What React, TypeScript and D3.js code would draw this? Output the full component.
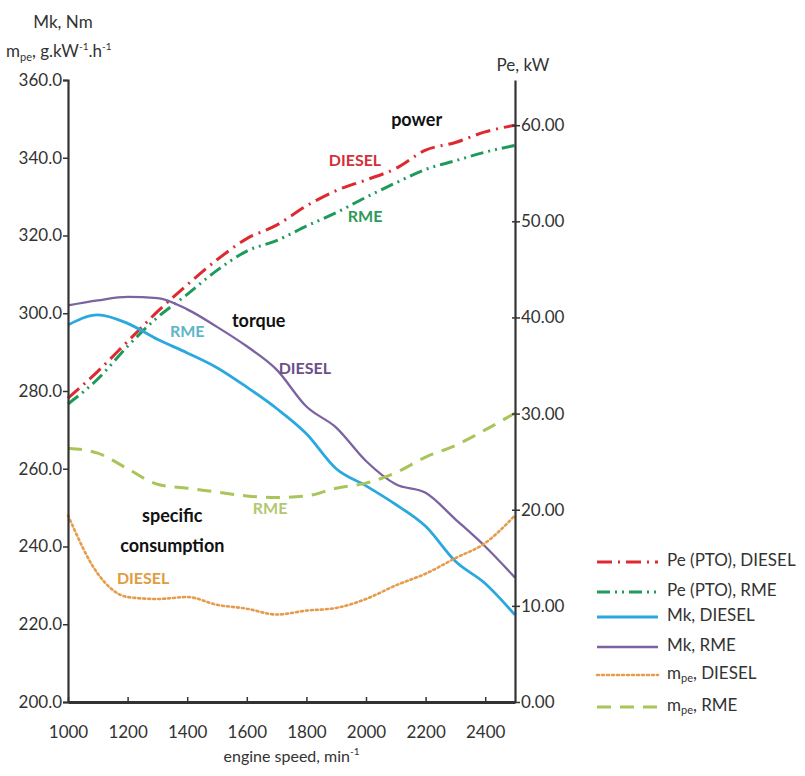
import React, { useRef, useEffect } from "react";
import * as d3 from "d3";

// engine speed, min-1
const rpm = [1000, 1100, 1200, 1300, 1400, 1500, 1600, 1700, 1800, 1900, 2000, 2100, 2200, 2300, 2400, 2500];

// Pe (PTO), kW -> right axis
const peDiesel = [31.6, 34.4, 37.5, 40.6, 43.4, 46.0, 48.2, 49.6, 51.6, 53.2, 54.3, 55.5, 57.4, 58.2, 59.3, 60.0];
const peRme = [31.0, 33.6, 37.0, 40.0, 42.4, 44.9, 46.9, 48.0, 49.5, 50.9, 52.5, 54.0, 55.4, 56.3, 57.2, 57.9];

// Mk, Nm -> left axis
const mkDiesel = [297.0, 299.6, 297.4, 293.3, 289.8, 286.0, 281.0, 275.5, 269.0, 260.0, 255.6, 250.8, 245.2, 236.2, 230.5, 222.4];
const mkRme = [302.0, 303.3, 304.2, 303.9, 301.0, 296.5, 291.5, 285.5, 276.0, 270.6, 262.0, 256.0, 253.8, 247.0, 240.0, 232.0];

// mpe, g/kWh -> left axis
const mpeDiesel = [248.0, 233.0, 227.0, 226.5, 227.0, 225.0, 224.0, 222.5, 223.5, 224.2, 226.5, 230.0, 233.0, 237.0, 240.9, 248.0];
const mpeRme = [265.3, 264.0, 260.0, 256.0, 255.0, 254.0, 253.0, 252.6, 253.0, 255.0, 256.3, 259.0, 263.0, 266.0, 270.0, 274.3];

const xTicks = [1000, 1200, 1400, 1600, 1800, 2000, 2200, 2400];
const leftTicks = [200, 220, 240, 260, 280, 300, 320, 340, 360];
const rightTicks = [0, 10, 20, 30, 40, 50, 60];

const series = [
  { key: "Pe (PTO), DIESEL", values: peDiesel, axis: "right", color: "#dc2a30", width: 3, dash: "15 6 2 6" },
  { key: "Pe (PTO), RME", values: peRme, axis: "right", color: "#1f9a5c", width: 3, dash: "13 5 2 5 2 5" },
  { key: "Mk, DIESEL", values: mkDiesel, axis: "left", color: "#2ba8df", width: 2.8, dash: null },
  { key: "Mk, RME", values: mkRme, axis: "left", color: "#7b62a0", width: 2.3, dash: null },
  { key: "mpe, DIESEL", values: mpeDiesel, axis: "left", color: "#e59c4c", width: 2.6, dash: "2 3" },
  { key: "mpe, RME", values: mpeRme, axis: "left", color: "#a9c55a", width: 3, dash: "14 9" },
];

// chart annotations, positioned in data units
const notes = [
  { text: "power", x: 2170, v: 60.4, axis: "right", color: "#111", size: 18 },
  { text: "DIESEL", x: 1963, v: 56.2, axis: "right", color: "#d3303a", size: 16 },
  { text: "RME", x: 1997, v: 50.4, axis: "right", color: "#2e9a5a", size: 16 },
  { text: "torque", x: 1640, v: 297.7, axis: "left", color: "#111", size: 18 },
  { text: "RME", x: 1400, v: 295.0, axis: "left", color: "#5bb6c8", size: 16 },
  { text: "DIESEL", x: 1795, v: 285.4, axis: "left", color: "#6b4f8a", size: 16 },
  { text: "specific", x: 1350, v: 247.5, axis: "left", color: "#111", size: 18 },
  { text: "consumption", x: 1350, v: 239.8, axis: "left", color: "#111", size: 18 },
  { text: "DIESEL", x: 1252, v: 231.3, axis: "left", color: "#e09c40", size: 16 },
  { text: "RME", x: 1678, v: 249.4, axis: "left", color: "#b2c870", size: 16 },
];

const FONT = "Lato, 'Open Sans', sans-serif";

const App = ({ width = 805, height = 776 }) => {
  const ref = useRef<SVGSVGElement>(null);

  useEffect(() => {
    const svg = d3.select(ref.current);
    svg.selectAll("*").remove();

    const left = 68, right = 515, top = 80, bottom = 702;
    const x = d3.scaleLinear().domain([1000, 2500]).range([left, right]);
    const yL = d3.scaleLinear().domain([200, 360]).range([bottom, top]);
    const yR = d3.scaleLinear().domain([0, 64.7]).range([bottom, top]);
    const axisColor = "#333";

    const g = svg.append("g").style("font-family", FONT).attr("fill", "#333");

    // curves
    series.forEach((s) => {
      const yy = s.axis === "left" ? yL : yR;
      const line = d3
        .line<number>()
        .x((_d, i) => x(rpm[i]))
        .y((d) => yy(d))
        .curve(d3.curveMonotoneX);
      g.append("path")
        .attr("d", line(s.values))
        .attr("fill", "none")
        .attr("stroke", s.color)
        .attr("stroke-width", s.width)
        .attr("stroke-dasharray", s.dash)
        .attr("stroke-linecap", s.dash === "2 3" ? "round" : "butt");
    });

    // left axis
    const la = g.append("g").attr("transform", `translate(${left},0)`)
      .call(d3.axisLeft(yL).tickValues(leftTicks).tickSize(5).tickFormat((d) => d3.format(".1f")(d as number)));
    la.select(".domain").attr("stroke", axisColor).attr("stroke-width", 2.2);
    la.selectAll(".tick line").attr("stroke", axisColor).attr("stroke-width", 1.5);
    la.selectAll(".tick text").attr("font-size", 17).attr("fill", "#333").attr("dx", 2).attr("font-family", FONT);

    // right axis
    const ra = g.append("g").attr("transform", `translate(${right},0)`)
      .call(d3.axisRight(yR).tickValues(rightTicks).tickSize(5).tickSizeOuter(0).tickFormat((d) => d3.format(".2f")(d as number)));
    ra.select(".domain").attr("stroke", axisColor).attr("stroke-width", 2.2);
    ra.selectAll(".tick line").attr("stroke", axisColor).attr("stroke-width", 1.5).attr("x1", -3);
    ra.selectAll(".tick text").attr("font-size", 17).attr("fill", "#333").attr("dx", -2).attr("font-family", FONT);

    // bottom axis
    const ba = g.append("g").attr("transform", `translate(0,${bottom})`)
      .call(d3.axisBottom(x).tickValues(xTicks).tickSize(-5).tickSizeOuter(0).tickFormat(d3.format("d")));
    ba.select(".domain").attr("stroke", axisColor).attr("stroke-width", 3);
    ba.selectAll(".tick line").attr("stroke", axisColor).attr("stroke-width", 1.5);
    ba.selectAll(".tick text").attr("font-size", 17).attr("fill", "#333").attr("y", 24).attr("font-family", FONT);

    // axis titles
    g.append("text").attr("x", 63).attr("y", 28).attr("text-anchor", "middle").attr("font-size", 17).text("Mk, Nm");
    const t2 = g.append("text").attr("x", 6).attr("y", 57).attr("font-size", 17);
    t2.append("tspan").text("m");
    t2.append("tspan").attr("font-size", 11).attr("dy", 4).text("pe");
    t2.append("tspan").attr("dy", -4).text(", g.kW");
    t2.append("tspan").attr("font-size", 10).attr("dy", -7).text("-1");
    t2.append("tspan").attr("dy", 7).text(".h");
    t2.append("tspan").attr("font-size", 10).attr("dy", -7).text("-1");

    g.append("text").attr("x", 523).attr("y", 71).attr("text-anchor", "middle").attr("font-size", 17).text("Pe, kW");

    const t3 = g.append("text").attr("x", (left + right) / 2).attr("y", 762).attr("text-anchor", "middle").attr("font-size", 16);
    t3.append("tspan").text("engine speed, min");
    t3.append("tspan").attr("font-size", 10).attr("dy", -7).text("-1");

    // annotations
    notes.forEach((n) => {
      const yy = n.axis === "left" ? yL : yR;
      g.append("text")
        .attr("x", x(n.x))
        .attr("y", yy(n.v))
        .attr("text-anchor", "middle")
        .attr("dominant-baseline", "middle")
        .attr("font-size", n.size)
        .attr("font-weight", "bold")
        .attr("fill", n.color)
        .text(n.text);
    });

    // legend
    const lg = g.append("g").attr("transform", "translate(597,562)");
    const rows = [0, 30, 55, 85, 113, 145];
    series.forEach((s, i) => {
      const row = lg.append("g").attr("transform", `translate(0,${rows[i]})`);
      row.append("line")
        .attr("x1", 0).attr("x2", 61).attr("y1", 0).attr("y2", 0)
        .attr("stroke", s.color)
        .attr("stroke-width", s.width)
        .attr("stroke-dasharray", s.dash)
        .attr("stroke-linecap", s.dash === "2 3" ? "round" : "butt");
      const t = row.append("text").attr("x", 70).attr("y", 0).attr("dominant-baseline", "middle").attr("font-size", 17);
      if (s.key.startsWith("mpe")) {
        t.append("tspan").text("m");
        t.append("tspan").attr("font-size", 11).attr("dy", 4).text("pe");
        t.append("tspan").attr("dy", -4).text(s.key.slice(3));
      } else {
        t.text(s.key);
      }
    });
  }, [width, height]);

  return (
    <svg
      ref={ref}
      width={width}
      height={height}
      style={{ position: "absolute", left: 0, top: 0, background: "#fff" }}
    />
  );
};

export default App;
